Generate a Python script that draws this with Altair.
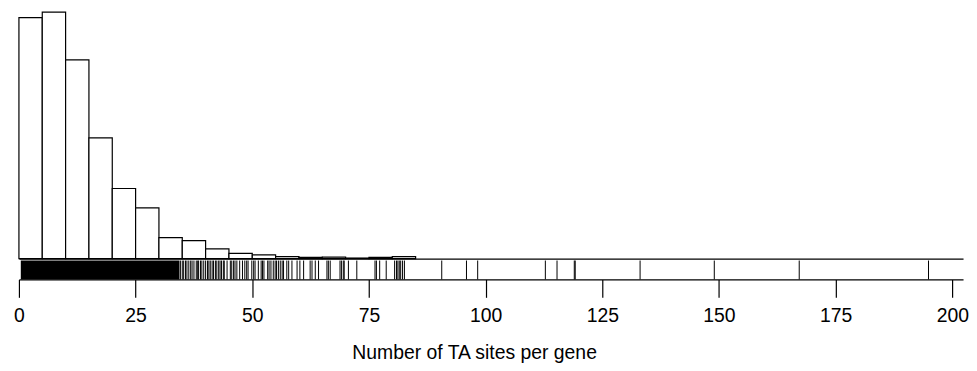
import altair as alt
import pandas as pd

# Histogram bins (width 5) and counts
bin_start = [0, 5, 10, 15, 20, 25, 30, 35, 40, 45, 50, 55, 60, 65, 70, 75, 80]
counts = [970, 992, 800, 486, 282, 204, 84, 72, 39, 21, 15, 8, 5, 6, 2, 5, 8]

# Rug: a densely covered range plus individual values beyond it
dense_start = [0.4]
dense_end = [34.4]
rug_values = [
    34.6, 35.0, 35.3, 35.7, 36.0, 36.4, 36.8, 37.1, 37.5, 38.0, 38.3, 38.5, 38.9,
    39.2, 39.6, 40.0, 40.4, 40.7, 41.0, 41.4, 41.7,
    42.1, 42.4, 42.8, 43.1, 43.4, 43.8, 44.0, 44.6, 45.3, 45.6, 46.0, 46.3, 46.7,
    47.3, 47.9, 48.4, 48.8, 49.1, 49.9, 50.3, 50.6, 51.3, 51.9, 52.2, 52.5, 53.3,
    53.6, 54.0, 54.5, 54.9, 55.2, 55.6, 56.0, 56.4,
    56.7, 57.4, 57.8, 58.5, 59.6, 60.2, 61.0, 62.4, 62.8, 63.5, 64.2, 66.0, 66.3,
    66.7, 68.8, 69.1, 69.5,
    69.7, 70.6, 72.4, 76.3, 76.6, 77.3, 78.7, 80.5, 80.9, 81.2, 81.5, 81.8, 82.2,
    82.6, 90.6, 95.9, 98.3, 112.8, 115.3, 119.0, 119.2, 133.1, 149.0, 167.2, 194.9,
]
x_ticks = [0, 25, 50, 75, 100, 125, 150, 175, 200]
x_domain = [0, 202.3]
x_title = "Number of TA sites per gene"

FONT = "Liberation Sans"
FS = 19.5
W = 950

hist_df = pd.DataFrame({"start": bin_start, "end": [b + 5 for b in bin_start], "count": counts})
rug_df = pd.DataFrame({"v": rug_values})
dense_df = pd.DataFrame({"a": dense_start, "b": dense_end})

xs = alt.Scale(domain=x_domain, nice=False, zero=False)

hist = alt.Chart(hist_df).mark_rect(fill="white", stroke="black", strokeWidth=1.2).encode(
    x=alt.X("start:Q", scale=xs,
            axis=alt.Axis(labels=False, ticks=False, title=None, grid=False,
                          domain=True, domainColor="black", domainWidth=1.2)),
    x2="end:Q",
    y=alt.Y("count:Q", scale=alt.Scale(domain=[0, 992], nice=False), axis=None),
    y2=alt.datum(0),
).properties(width=W, height=248)

rug_axis = alt.Axis(values=x_ticks, title=x_title, grid=False, domain=True,
                    domainColor="black", domainWidth=1.2, tickColor="black",
                    tickSize=18, tickWidth=1.2, labelFont=FONT, labelFontSize=FS,
                    labelColor="black", labelPadding=9.5, titleFont=FONT,
                    titleFontSize=FS, titleFontWeight="normal", titleColor="black",
                    titlePadding=19, labelFlush=False, titleX=458)

dense = alt.Chart(dense_df).mark_rect(color="black").encode(
    x=alt.X("a:Q", scale=xs, axis=rug_axis),
    x2="b:Q",
)
rug = alt.Chart(rug_df).mark_rule(color="black", strokeWidth=1).encode(
    x=alt.X("v:Q", scale=xs),
)
rug_panel = alt.layer(dense, rug).properties(width=W, height=19)

chart = alt.vconcat(hist, rug_panel, spacing=0).resolve_scale(y="independent").properties(
    padding={"left": 5, "top": 2, "right": 0, "bottom": 0},
    background="white",
).configure_view(stroke=None)

chart.save("out.html", embed_options={"renderer": "svg", "actions": False})
